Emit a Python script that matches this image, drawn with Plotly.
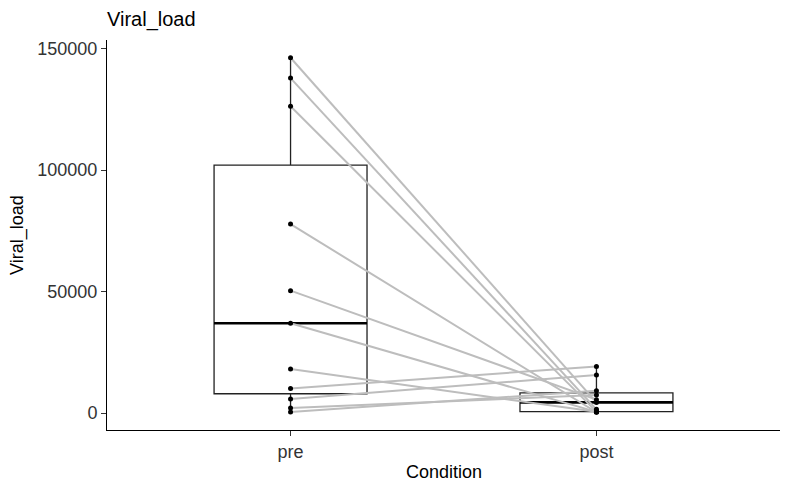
import numpy as np
import plotly.graph_objects as go

conditions = ["pre", "post"]
pre_load = [146301, 137918, 126288, 77795, 50384, 36986, 18082, 10110, 5753, 2055, 411]
post_load = [4356, 1500, 560, 300, 5500, 450, 500, 19150, 15616, 7397, 9164]
y_ticks = [0, 50000, 100000, 150000]

groups = [np.array(pre_load, float), np.array(post_load, float)]
xpos = [1, 2]
box_w = 0.5

# page body has an 8px margin; size the figure so it fits the 788x487 window
W, H = 780, 479
ML, MR, MT, MB = 99, 8, 32, 57

fig = go.Figure()

def stats(v):
    q1, med, q3 = np.percentile(v, [25, 50, 75])
    iqr = q3 - q1
    lo = v[v >= q1 - 1.5 * iqr].min()
    hi = v[v <= q3 + 1.5 * iqr].max()
    return q1, med, q3, lo, hi

for xp, v in zip(xpos, groups):
    q1, med, q3, lo, hi = stats(v)
    fig.add_trace(go.Box(
        x=[xp], q1=[q1], median=[med], q3=[q3], lowerfence=[lo], upperfence=[hi],
        width=box_w, fillcolor="white", line=dict(color="#222222", width=1.3),
        whiskerwidth=0, boxpoints=False, showlegend=False, hoverinfo="skip"))
    fig.add_trace(go.Scatter(
        x=[xp - box_w / 2, xp + box_w / 2], y=[med, med], mode="lines",
        line=dict(color="black", width=2.6), showlegend=False, hoverinfo="skip"))

lx, ly = [], []
for a, b in zip(pre_load, post_load):
    lx += [xpos[0], xpos[1], None]
    ly += [a, b, None]
fig.add_trace(go.Scatter(x=lx, y=ly, mode="lines",
                         line=dict(color="#BDBDBD", width=2), showlegend=False,
                         hoverinfo="skip"))

fig.add_trace(go.Scatter(x=[xpos[0]] * len(pre_load) + [xpos[1]] * len(post_load),
                         y=pre_load + post_load, mode="markers",
                         marker=dict(color="black", size=5), showlegend=False))

allv = np.concatenate(groups)
span = allv.max() - allv.min()
yr = [allv.min() - 0.05 * span, allv.max() + 0.05 * span]

pw = W - ML - MR
ph = H - MT - MB

fig.update_layout(
    width=W, height=H,
    margin=dict(l=ML, r=MR, t=MT, b=MB),
    paper_bgcolor="white", plot_bgcolor="white",
    font=dict(family="Liberation Sans, Arial, sans-serif", color="black"),
    title=dict(text="Viral_load", x=ML / W, xref="container", xanchor="left",
               y=1 - 11 / H, yanchor="middle", font=dict(size=20, color="black")),
    xaxis=dict(range=[0.4, 2.6], tickvals=xpos, ticktext=conditions, automargin=False,
               showline=True, linecolor="black", linewidth=1, showgrid=False,
               zeroline=False, ticks="outside", ticklen=5, tickcolor="#333333",
               tickfont=dict(size=18, color="#333333")),
    yaxis=dict(range=yr, tickvals=y_ticks, ticktext=[str(t) for t in y_ticks], automargin=False,
               showline=True, linecolor="black", linewidth=1, showgrid=False,
               zeroline=False, ticks="outside", ticklen=5, tickcolor="#333333",
               tickfont=dict(size=18, color="#333333")),
    annotations=[
        dict(text="Condition", xref="paper", yref="paper", x=0.5,
             y=-(464 - 32 - ph) / ph, xanchor="center", yanchor="middle",
             showarrow=False, font=dict(size=18, color="black")),
        dict(text="Viral_load", xref="paper", yref="paper", x=-(ML - 9) / pw, y=0.5,
             textangle=-90, xanchor="center", yanchor="middle",
             showarrow=False, font=dict(size=18, color="black")),
    ],
)

fig.write_html("out.html")
